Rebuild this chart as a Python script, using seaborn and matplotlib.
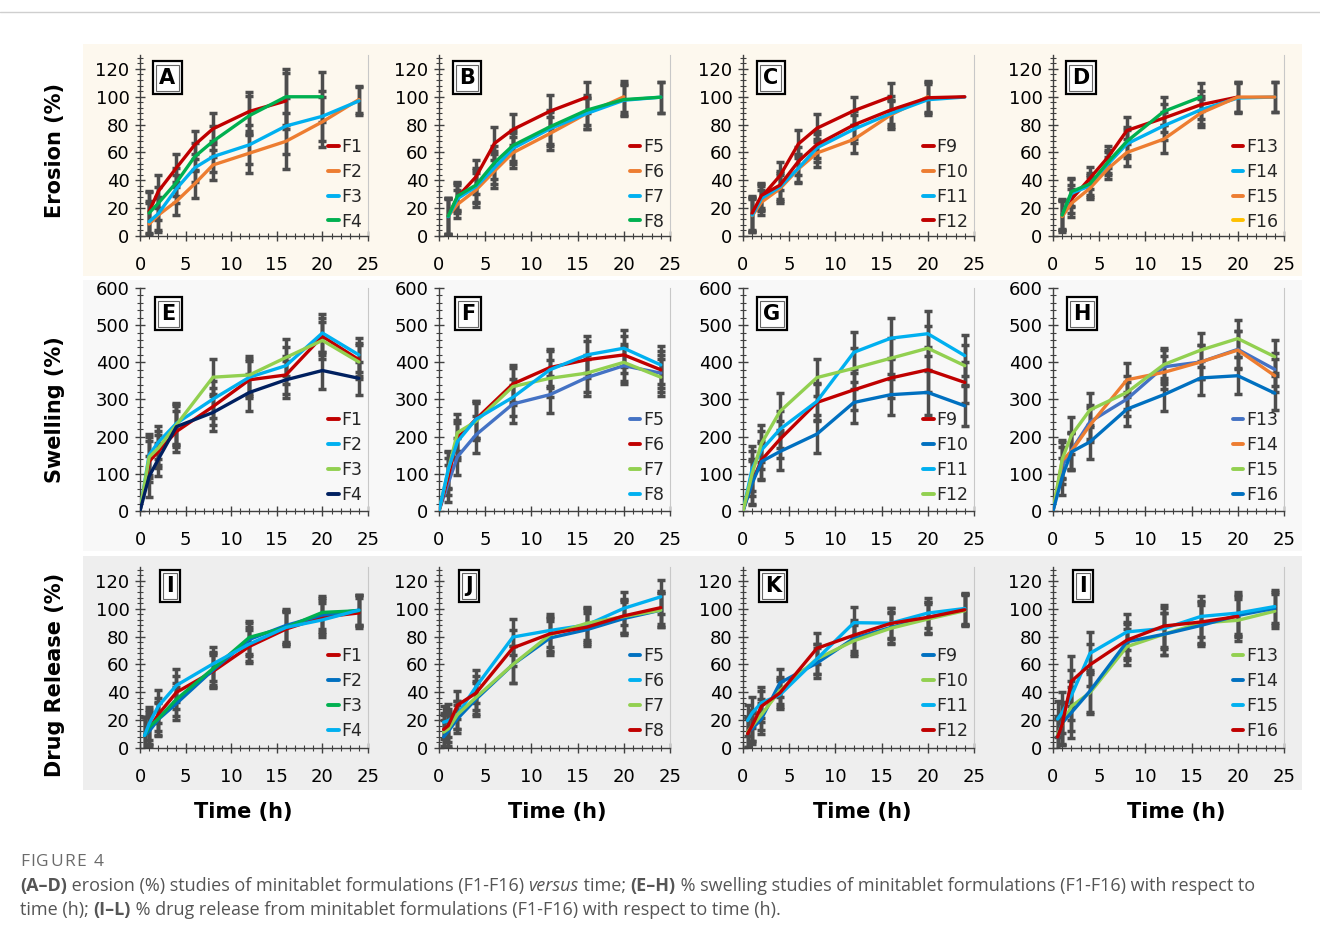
import matplotlib
matplotlib.use("Agg")
import matplotlib.pyplot as plt
import seaborn as sns
from matplotlib.lines import Line2D
from matplotlib.patches import Rectangle
from matplotlib.ticker import MultipleLocator

# ---------------- data ----------------
t_erosion = [1, 2, 4, 6, 8, 12, 16, 20, 24]
t_swelling = [0, 1, 2, 4, 8, 12, 16, 20, 24]
t_release = [0.5, 1, 2, 4, 8, 12, 16, 20, 24]

# Erosion (%)
A_F1 = [17.5, 32, 49, 65.5, 77, 89.5, 97]
A_F2 = [8.6, 15, 25, 37.5, 51, 59.5, 68, 82, 98]
A_F3 = [10.3, 16, 34, 49, 57, 65.5, 79, 86, 97]
A_F4 = [16.5, 23.5, 38.5, 57, 68, 86.5, 100, 100]
A_err = [15, 12, 10, 10, 11, 14, 20, 18, 10]

B_F5 = [14.3, 28, 42.5, 66.5, 76.5, 89.6, 99.7]
B_F6 = [14.3, 22.7, 33, 46.6, 59.8, 73.6, 88, 100]
B_F7 = [13.9, 26.8, 35.4, 49, 62.9, 77, 88, 97.5, 99.7]
B_F8 = [14.3, 28.7, 36.6, 52.6, 65, 78.4, 90.4, 98, 99.7]
B_err = [13, 10, 12, 12, 11, 12, 11, 11, 11]

C_F9 = [15.8, 28, 43.3, 66.2, 77.4, 90, 100]
C_F10 = [14.6, 24.3, 34, 48.2, 59.6, 69.4, 87, 100]
C_F11 = [15, 27, 35.3, 48.7, 63.3, 76.7, 88, 97.9, 99.8]
C_F12 = [16.5, 29.2, 36.5, 53.6, 65.7, 79.8, 90.5, 99.3, 100]
C_err = [12, 9, 10, 10, 10, 10, 10, 11, 0]

D_F13 = [15.8, 26.4, 41.5, 57, 75.8, 84.7, 94.3, 99.8]
D_F14 = [15, 30.7, 36, 52, 66.2, 79.2, 90.7, 99.1, 99.8]
D_F15 = [14, 23.5, 34.3, 48.7, 60, 69.6, 88.3, 99.8, 99.8]
D_F16 = [15, 31.9, 37.4, 53.5, 68, 89.5, 99.8]
D_err = [11, 10, 8, 8, 10, 10, 10, 11, 11]

# Swelling (%)
E_F1 = [0, 133, 160, 214, 281, 353, 366, 470, 407]
E_F2 = [0, 151, 185, 236, 301, 360, 391, 479, 420]
E_F3 = [0, 145, 169, 232, 360, 366, 413, 459, 401]
E_F4 = [0, 93, 139, 227, 265, 319, 353, 378, 357]
E_err = [0, 55, 45, 55, 50, 50, 50, 50, 45]

F_F5 = [0, 75, 146, 205, 288, 313, 359, 391, 371]
F_F6 = [0, 93, 196, 247, 342, 386, 407, 420, 380]
F_F7 = [0, 110, 211, 241, 335, 357, 371, 400, 360]
F_F8 = [0, 112, 187, 247, 306, 380, 420, 438, 393]
F_err = [0, 50, 50, 50, 50, 50, 50, 50, 50]

G_F9 = [0, 79, 137, 193, 292, 326, 358, 380, 346]
G_F10 = [0, 75, 133, 160, 207, 292, 313, 319, 283]
G_F11 = [0, 115, 164, 220, 295, 427, 465, 477, 418]
G_F12 = [0, 101, 182, 268, 359, 384, 411, 438, 391]
G_err = [0, 60, 50, 50, 50, 55, 55, 60, 55]

H_F13 = [0, 122, 163, 240, 301, 388, 401, 435, 381]
H_F14 = [0, 136, 161, 231, 353, 373, 401, 433, 364]
H_F15 = [0, 140, 204, 272, 319, 394, 433, 464, 415]
H_F16 = [0, 92, 159, 186, 274, 313, 358, 364, 317]
H_err = [0, 50, 50, 45, 45, 45, 45, 50, 45]

# Drug release (%)
I_F1 = [9, 14, 24, 40, 55, 73, 85.4, 94, 97]
I_F2 = [9, 12, 20.5, 32, 56, 78, 88, 95.5, 99]
I_F3 = [9, 15, 21, 35, 57, 79.5, 86.6, 97.4, 98.6]
I_F4 = [9, 17.4, 30, 45, 60.4, 74.7, 86.6, 92, 99]
I_err = [13, 12, 12, 12, 12, 12, 12, 12, 11]

J_F5 = [8, 12, 21, 35, 60, 79, 85, 93, 99]
J_F6 = [18.5, 19.7, 24, 44, 79.7, 84.4, 88.4, 100.3, 108.6]
J_F7 = [11.4, 13.7, 24, 36.3, 60, 81.3, 89.6, 94.4, 99]
J_F8 = [13.3, 16, 30.8, 39.4, 71.9, 82, 86.8, 94.9, 100.8]
J_err = [12, 12, 10, 12, 13, 12, 12, 12, 12]

K_F9 = [11.5, 13.8, 21, 46.8, 61, 78.8, 86.6, 93.8, 99.3]
K_F10 = [11.5, 15.8, 24, 41.3, 64, 77, 86, 92.6, 98.6]
K_F11 = [19.8, 25.3, 32.5, 38.2, 64, 90, 89.7, 96.9, 100.2]
K_F12 = [10.3, 16.2, 30, 39.6, 71.6, 81, 89.5, 93.8, 99.3]
K_err = [11, 11, 11, 10, 11, 11, 11, 11, 11]

L_F13 = [10, 17, 30, 39.7, 72.8, 81.7, 89.8, 91.7, 98.3]
L_F14 = [7.8, 18, 25.5, 40.9, 76.3, 81.7, 88, 95.2, 100.4]
L_F15 = [20.8, 25.5, 37.8, 68, 83.4, 85.8, 94.5, 96.9, 101.6]
L_F16 = [7.8, 17, 48, 59.8, 77.5, 87.6, 90.5, 94.5]
L_err = [13, 15, 18, 15, 13, 15, 15, 15, 12]

panel_letters = ["A", "B", "C", "D", "E", "F", "G", "H", "I", "J", "K", "I"]
row_titles = ["Erosion (%)", "Swelling (%)", "Drug Release (%)"]
x_title = "Time (h)"

# ---------------- style ----------------
RED = "#C00000"; ORG = "#ED7D31"; CYAN = "#00B0F0"; GRN = "#00B050"
LGRN = "#92D050"; NAVY = "#002060"; MBLUE = "#4472C4"; BLUE = "#0070C0"; GOLD = "#FFC000"

panels = [
    (t_erosion, [("F1", A_F1), ("F2", A_F2), ("F3", A_F3), ("F4", A_F4)], [RED, ORG, CYAN, GRN], None, A_err),
    (t_erosion, [("F5", B_F5), ("F6", B_F6), ("F7", B_F7), ("F8", B_F8)], [RED, ORG, CYAN, GRN], None, B_err),
    (t_erosion, [("F9", C_F9), ("F10", C_F10), ("F11", C_F11), ("F12", C_F12)], [RED, ORG, CYAN, RED], None, C_err),
    (t_erosion, [("F13", D_F13), ("F14", D_F14), ("F15", D_F15), ("F16", D_F16)], [RED, CYAN, ORG, GRN], [RED, CYAN, ORG, GOLD], D_err),
    (t_swelling, [("F1", E_F1), ("F2", E_F2), ("F3", E_F3), ("F4", E_F4)], [RED, CYAN, LGRN, NAVY], None, E_err),
    (t_swelling, [("F5", F_F5), ("F6", F_F6), ("F7", F_F7), ("F8", F_F8)], [MBLUE, RED, LGRN, CYAN], None, F_err),
    (t_swelling, [("F9", G_F9), ("F10", G_F10), ("F11", G_F11), ("F12", G_F12)], [RED, BLUE, CYAN, LGRN], None, G_err),
    (t_swelling, [("F13", H_F13), ("F14", H_F14), ("F15", H_F15), ("F16", H_F16)], [MBLUE, ORG, LGRN, BLUE], None, H_err),
    (t_release, [("F1", I_F1), ("F2", I_F2), ("F3", I_F3), ("F4", I_F4)], [RED, BLUE, GRN, CYAN], None, I_err),
    (t_release, [("F5", J_F5), ("F6", J_F6), ("F7", J_F7), ("F8", J_F8)], [BLUE, CYAN, LGRN, RED], None, J_err),
    (t_release, [("F9", K_F9), ("F10", K_F10), ("F11", K_F11), ("F12", K_F12)], [BLUE, LGRN, CYAN, RED], None, K_err),
    (t_release, [("F13", L_F13), ("F14", L_F14), ("F15", L_F15), ("F16", L_F16)], [LGRN, BLUE, CYAN, RED], None, L_err),
]

sns.set_theme(style="white")
plt.rcParams["font.family"] = ["DejaVu Sans"]

W, H = 1320, 942
fig = plt.figure(figsize=(W / 100, H / 100), dpi=100)
fig.patch.set_facecolor("white")

def fx(px):
    return px / W

def fy(py):
    return 1 - py / H

# background bands
bands = [(44, 276, "#FDF8EE"), (280, 551, "#F8F8F8"), (556, 790, "#EEEEEE")]
for top, bot, col in bands:
    fig.add_artist(Rectangle((fx(83), fy(bot)), fx(1302) - fx(83), fy(top) - fy(bot),
                             transform=fig.transFigure, facecolor=col, edgecolor="none", zorder=0))
fig.add_artist(Line2D([0, 1], [fy(12), fy(12)], transform=fig.transFigure, color="#cfcfcf", lw=1))

row_y = [(55, 236), (288, 511), (567, 748)]
col_x = [(140, 368), (439, 670), (743, 974), (1053, 1284)]
row_ylim = [(0, 130, 20, 4), (0, 600, 100, 20), (0, 130, 20, 4)]
legend_y0 = [0.03, 0.032, 0.045]
label_pos = [(0.12, 0.875), (0.125, 0.885), (0.13, 0.895)]
AX = "#404040"

for i, (t, series, colors, leg_colors, err) in enumerate(panels):
    r, c = divmod(i, 4)
    x0, x1 = col_x[c]
    ytop, ybot = row_y[r]
    ax = fig.add_axes([fx(x0), fy(ybot), fx(x1) - fx(x0), fy(ytop) - fy(ybot)])
    ax.set_facecolor("none")
    ax.patch.set_alpha(0)

    # error bars
    for (name, y) in series:
        n = len(y)
        xs = [t[k] for k in range(n) if err[k] > 0]
        ys = [y[k] for k in range(n) if err[k] > 0]
        es = [err[k] for k in range(n) if err[k] > 0]
        ax.errorbar(xs, ys, yerr=es, fmt="none", ecolor="#4d4d4d", elinewidth=2.5,
                    capsize=3, capthick=2.5, zorder=2)
    # lines
    for (name, y), col in zip(series, colors):
        sns.lineplot(x=t[:len(y)], y=y, ax=ax, color=col, linewidth=2.4,
                     estimator=None, sort=False, legend=False, zorder=3)

    lo, hi, maj, mnr = row_ylim[r]
    ax.set_ylim(lo, hi)
    ax.set_xlim(0, 25)
    ax.xaxis.set_major_locator(MultipleLocator(5))
    ax.xaxis.set_minor_locator(MultipleLocator(1))
    ax.yaxis.set_major_locator(MultipleLocator(maj))
    ax.yaxis.set_minor_locator(MultipleLocator(mnr))
    ax.tick_params(axis="both", which="major", direction="inout", length=7, width=1,
                   color=AX, labelsize=13, labelcolor="black")
    ax.tick_params(axis="both", which="minor", direction="inout", length=4, width=0.8, color=AX)
    ax.tick_params(axis="x", which="major", pad=11)
    ax.tick_params(axis="y", which="major", pad=4)
    ax.tick_params(axis="both", which="both", bottom=True, left=True)
    ax.set_xlabel("")
    ax.set_ylabel("")
    for s in ["left", "bottom"]:
        ax.spines[s].set_color(AX)
        ax.spines[s].set_linewidth(1)
    ax.spines["top"].set_visible(False)
    ax.spines["right"].set_color("#c8c8c8")
    ax.spines["right"].set_linewidth(0.8)

    # panel letter (double frame)
    lx, ly = label_pos[r]
    ax.text(lx, ly, panel_letters[i], transform=ax.transAxes, ha="center", va="center",
            fontsize=15, fontweight="bold", color="black", zorder=5,
            bbox=dict(boxstyle="square,pad=0.3", fc="white", ec="black", lw=1.6))
    ax.text(lx, ly, panel_letters[i], transform=ax.transAxes, ha="center", va="center",
            fontsize=15, fontweight="bold", color="black", zorder=6,
            bbox=dict(boxstyle="square,pad=0.15", fc="white", ec="#666666", lw=0.8))

    # legend
    lc = leg_colors if leg_colors is not None else colors
    handles = [Line2D([0], [0], color=cc, lw=2.8) for cc in lc]
    names = [nm for nm, _ in series]
    ax.legend(handles, names, loc="lower right", bbox_to_anchor=(0.975, legend_y0[r]),
              frameon=False, fontsize=12.5, handlelength=0.6, handletextpad=0.15,
              labelspacing=0.4, borderaxespad=0, borderpad=0)

# row titles
row_centers = [150, 410, 675]
for title, cy in zip(row_titles, row_centers):
    fig.text(fx(55), fy(cy), title, rotation=90, ha="center", va="center",
             fontsize=15, fontweight="bold", color="black")

# x titles
for cx in [243, 557, 862, 1176]:
    fig.text(fx(cx), fy(812), x_title, ha="center", va="center",
             fontsize=15, fontweight="bold", color="black")

# caption
CAP = "#555555"
CAP_FONT = ["Open Sans", "DejaVu Sans"]
renderer = fig.canvas.get_renderer()

def text_width(s, **kw):
    t1 = fig.text(0, 0, "|" + s + "|", **kw)
    t2 = fig.text(0, 0, "||", **kw)
    w = t1.get_window_extent(renderer).width - t2.get_window_extent(renderer).width
    t1.remove(); t2.remove()
    return w

def rich_line(x_px, y_px, parts, size=13.0, color=CAP, tracking=0.0):
    x = x_px
    for s, weight, style in parts:
        kw = dict(fontsize=size, color=color, family=CAP_FONT,
                  fontweight=weight, fontstyle=style)
        if tracking > 0:
            for ch in s:
                fig.text(fx(x), fy(y_px), ch, ha="left", va="center", **kw)
                x += text_width(ch, **kw) + tracking
        else:
            fig.text(fx(x), fy(y_px), s, ha="left", va="center", **kw)
            x += text_width(s, **kw)

rich_line(20, 862, [("FIGURE 4", "normal", "normal")], size=12.5, color="#6b6b6b", tracking=1.3)
rich_line(20, 886, [
    ("(A\u2013D)", "bold", "normal"),
    (" erosion (%) studies of minitablet formulations (F1-F16) ", "normal", "normal"),
    ("versus", "normal", "italic"),
    (" time; ", "normal", "normal"),
    ("(E\u2013H)", "bold", "normal"),
    (" % swelling studies of minitablet formulations (F1-F16) with respect to", "normal", "normal"),
])
rich_line(20, 910, [
    ("time (h); ", "normal", "normal"),
    ("(I\u2013L)", "bold", "normal"),
    (" % drug release from minitablet formulations (F1-F16) with respect to time (h).", "normal", "normal"),
])

fig.savefig("out.png", dpi=100, facecolor="white")
